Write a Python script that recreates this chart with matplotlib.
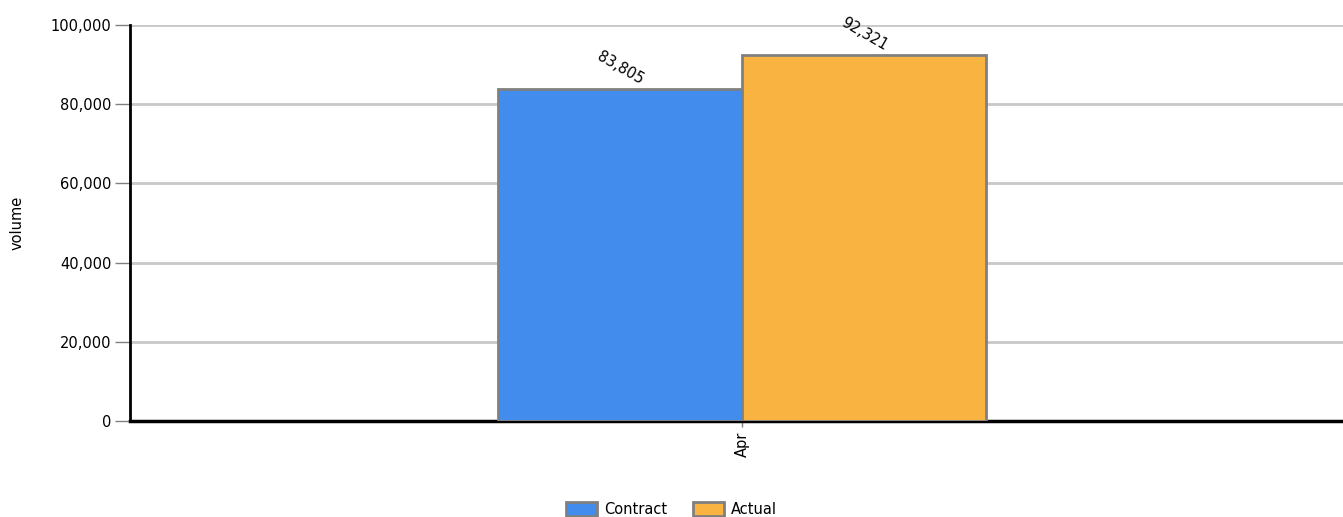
import matplotlib
matplotlib.use("Agg")
import matplotlib.pyplot as plt
from matplotlib.ticker import FuncFormatter, MultipleLocator

categories = ["Apr"]
series_names = ["Contract", "Actual"]
contract = [83805]
actual = [92321]
colors = ["#428CEE", "#F9B341"]

plt.rcParams["font.family"] = ["DejaVu Sans"]

fig = plt.figure(figsize=(13.43, 5.17), dpi=100)
ax = fig.add_axes([130 / 1343, 1 - 421 / 517, 1 - 130 / 1343, (421 - 25) / 517])

width = 1.0
xs = list(range(len(categories)))
values = [contract, actual]
for i, (name, vals, col) in enumerate(zip(series_names, values, colors)):
    offs = (i - 0.5) * width
    bars = ax.bar([x + offs for x in xs], vals, width=width, color=col,
                  edgecolor="#808080", linewidth=2, label=name, zorder=3)
    for b, v in zip(bars, vals):
        ax.annotate(f"{v:,}", (b.get_x() + b.get_width() / 2, v),
                    xytext=(0, 21), textcoords="offset pixels",
                    ha="center", va="center", rotation=-30, fontsize=10.5)

ax.set_xlim(-2.508, 2.463)
ax.set_ylim(0, 100000)
ax.yaxis.set_major_locator(MultipleLocator(20000))
ax.yaxis.set_major_formatter(FuncFormatter(lambda v, p: f"{int(v):,}"))
ax.set_xticks(xs)
ax.set_xticklabels(categories, rotation=90, fontsize=10.5)

ax.grid(axis="y", color="#c8c8c8", linewidth=2, zorder=0)
ax.set_axisbelow(True)

for s in ["top", "right"]:
    ax.spines[s].set_visible(False)
ax.spines["left"].set_linewidth(2)
ax.spines["left"].set_color("black")
ax.spines["bottom"].set_linewidth(2.5)
ax.spines["bottom"].set_color("black")

ax.tick_params(axis="y", length=10.5, width=1, color="#808080", labelsize=10.5, pad=3)
ax.tick_params(axis="x", length=4, width=1, color="#808080", pad=4)

ax.set_ylabel("volume", fontsize=10.5)
ax.yaxis.set_label_coords(-105 / 1213, 0.5)

fig.legend(loc="center", bbox_to_anchor=(0.5, 1 - 509 / 517), ncol=2, frameon=False,
           fontsize=10.5, handlelength=2.1, handleheight=1.1, columnspacing=1.8,
           handletextpad=0.5)

fig.savefig("out.png", dpi=100)
